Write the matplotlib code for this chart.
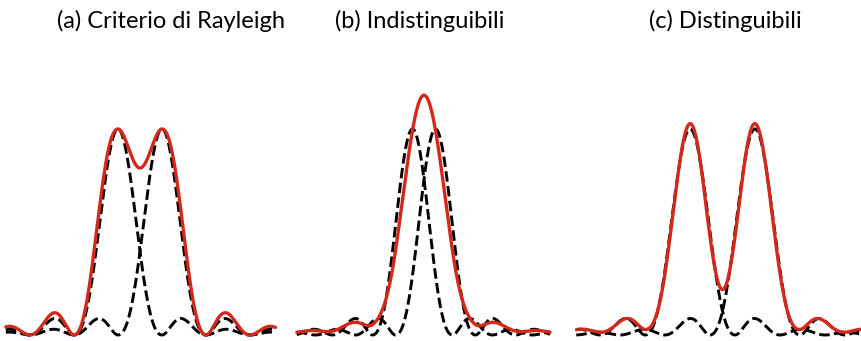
import numpy as np
import matplotlib
matplotlib.use("Agg")
import matplotlib.pyplot as plt

# Panel titles
titles = ["(a) Criterio di Rayleigh", "(b) Indistinguibili", "(c) Distinguibili"]
# Separation of the two sources, in units of the first-minimum radius
separations = [1.0, 0.575, 1.44]
# Scale applied to the combined (red) intensity in each panel
sum_gain = [1.0, 0.77, 0.95]
# Angular extent drawn for each panel (units of the first-minimum radius)
x_extent = [(-3.05, 3.08), (-3.18, 3.15), (-3.25, 3.12)]
# Exaggeration of the secondary maxima for readability
sidelobe_boost = 1.7


def pattern(u):
    """Single-source diffraction pattern with the central peak normalised to 1."""
    base = np.sinc(u) ** 2
    return base * np.where(np.abs(u) > 1.0, sidelobe_boost, 1.0)


fig = plt.figure(figsize=(8.61, 3.41), dpi=100)
W, H = 861.0, 341.0

# axes frames in pixels: (left, right), plus centre and horizontal scale (px per unit)
frames = [(0, 290, 140.0, 44.0), (290, 575, 424.0, 40.0), (575, 861, 722.5, 45.0)]
base_px, unit_px, top_px = 335.0, 206.0, 60.0

title_pos = [171, 420, 725]

for i, (l, r, c, s_px) in enumerate(frames):
    ax = fig.add_axes([l / W, 0, (r - l) / W, (H - top_px) / H])
    ax.set_xlim((l - c) / s_px, (r - c) / s_px)
    ax.set_ylim((base_px - H) / unit_px, (base_px - top_px) / unit_px)
    ax.axis("off")

    x = np.linspace(x_extent[i][0], x_extent[i][1], 1500)
    d = separations[i] / 2.0
    left = pattern(x + d)
    right = pattern(x - d)
    total = sum_gain[i] * (left + right)

    for comp in (left, right):
        ax.plot(x, comp, color="black", lw=2.1, dashes=(3.6, 1.5),
                solid_capstyle="butt", dash_capstyle="butt")
    ax.plot(x, total, color="#d3281c", lw=2.4, solid_capstyle="round")

    fig.text(title_pos[i] / W, 1 - 21 / H, titles[i], ha="center", va="center",
             fontsize=17, family=["Lato", "DejaVu Sans"], color="black")

fig.savefig("out.png", dpi=100, facecolor="white")
